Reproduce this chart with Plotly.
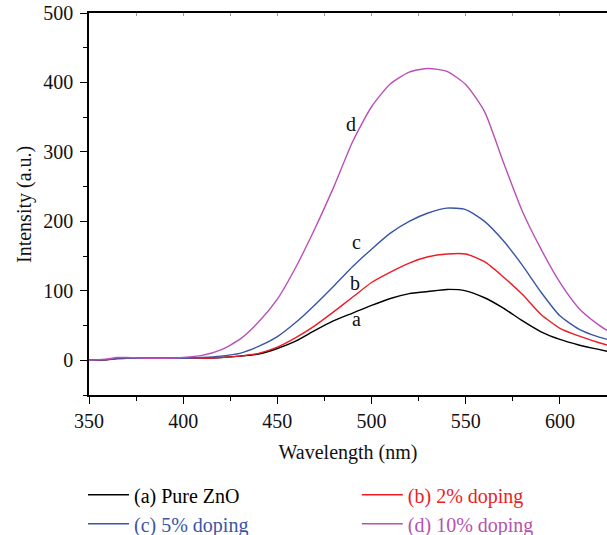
import plotly.graph_objects as go

wavelength = [350, 360, 365, 370, 380, 390, 400, 410, 420, 430, 440, 450, 460, 470, 480,
              490, 500, 510, 520, 530, 540, 550, 560, 570, 580, 590, 600, 610, 620, 625]

pure_zno = [0, 1, 3, 3, 3, 3, 3, 3, 4, 6, 9, 17, 28, 43, 57,
            68, 79, 89, 96, 99, 102, 100, 90, 75, 57, 41, 30, 22, 16, 13]
dop_2 = [0, 1, 2, 3, 3, 3, 3, 3, 4, 6, 10, 19, 33, 50, 70,
         91, 112, 127, 140, 149, 153, 153, 142, 120, 95, 66, 46, 35, 26, 22]
dop_5 = [0, 1, 3, 3, 3, 3, 3, 4, 6, 10, 20, 34, 55, 80, 107,
         135, 160, 183, 200, 212, 219, 217, 200, 172, 137, 98, 64, 45, 34, 30]
dop_10 = [0, 2, 4, 4, 3, 3, 4, 7, 15, 30, 55, 88, 135, 190, 250,
          315, 365, 398, 415, 420, 416, 397, 358, 285, 215, 160, 112, 75, 52, 43]

names = ["(a) Pure ZnO", "(b) 2% doping", "(c) 5% doping", "(d) 10% doping"]
series = [pure_zno, dop_2, dop_5, dop_10]
line_colors = ["#000000", "#ED1C24", "#3A55A6", "#BA4FB7"]
text_colors = ["#000000", "#ED1C24", "#3A55A6", "#B552B0"]
legend_ids = ["legend", "legend2", "legend", "legend2"]
labels = ["a", "b", "c", "d"]
label_x = [492, 491, 492, 489]
label_y = [60, 111, 171, 340]

FONT = "Liberation Serif"
FS = 20

fig = go.Figure()
for nm, ys, lc, tc, lg in zip(names, series, line_colors, text_colors, legend_ids):
    fig.add_trace(go.Scatter(
        x=wavelength, y=ys, mode="lines",
        line=dict(color=lc, width=1.4, shape="spline", smoothing=0.6),
        name=f"<span style='color:{tc}'>{nm}</span>", legend=lg,
    ))
fig.add_trace(go.Scatter(x=[], y=[], xaxis="x2", showlegend=False, hoverinfo="skip"))

for lab, lx, ly in zip(labels, label_x, label_y):
    fig.add_annotation(x=lx, y=ly, text=lab, showarrow=False,
                       font=dict(family=FONT, size=FS, color="#111111"))

# y-axis title
fig.add_annotation(xref="paper", yref="paper", x=-0.1255, y=0.5,
                   xanchor="center", yanchor="middle",
                   text="Intensity (a.u.)", textangle=-90, showarrow=False,
                   font=dict(family=FONT, size=FS, color="#111111"))

leg_common = dict(orientation="v", yanchor="top", xanchor="left",
                  font=dict(family=FONT, size=FS), bgcolor="rgba(0,0,0,0)",
                  itemwidth=41, tracegroupgap=0)

fig.update_layout(
    width=607, height=535,
    margin=dict(l=89, r=0, t=13, b=140, autoexpand=False),
    paper_bgcolor="white", plot_bgcolor="white",
    font=dict(family=FONT, size=FS, color="#111111"),
    showlegend=True,
    legend=dict(x=-0.0116, y=-0.21, **leg_common),
    legend2=dict(x=0.517, y=-0.21, **leg_common),
    xaxis=dict(range=[350, 625], showline=True,
               linecolor="#000000", linewidth=1.5,
               ticks="outside", ticklen=7, tickcolor="#000000",
               dtick=50, tick0=350, showgrid=False, zeroline=False,
               minor=dict(dtick=25, ticks="outside", ticklen=4, tickcolor="#000000"),
               title=dict(text="Wavelength (nm)", standoff=14,
                          font=dict(family=FONT, size=FS)),
               tickfont=dict(family=FONT, size=FS)),
    xaxis2=dict(overlaying="x", side="top", matches="x", range=[350, 625],
                showline=True, linecolor="#000000", linewidth=1.5,
                ticks="inside", ticklen=3, tickcolor="#9a9a9a", dtick=25, tick0=350,
                showticklabels=False, showgrid=False, zeroline=False),
    yaxis=dict(range=[-50, 500], showline=True, linecolor="#000000", linewidth=1.5,
               ticks="outside", ticklen=7, tickcolor="#000000",
               dtick=100, tick0=0, showgrid=False, zeroline=False,
               minor=dict(dtick=50, ticks="outside", ticklen=4, tickcolor="#000000"),
               ticklabelstandoff=3,
               tickfont=dict(family=FONT, size=FS)),
)

fig.write_html("out.html",
               config={"displayModeBar": False},
               post_script="document.body.style.margin='0px';"
                           "document.body.style.overflow='hidden';")
